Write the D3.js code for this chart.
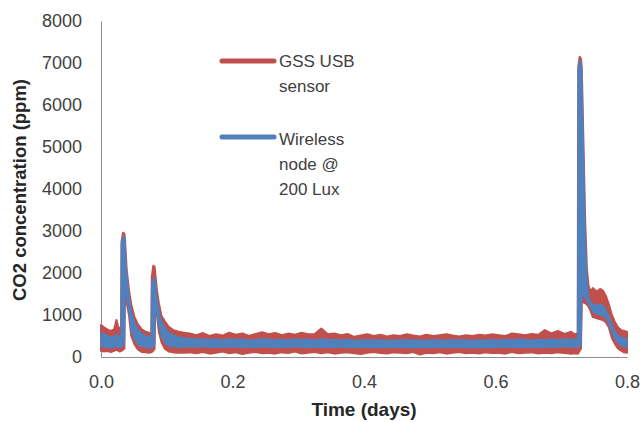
<!DOCTYPE html>
<html>
<head>
<meta charset="utf-8">
<script src="https://cdn.jsdelivr.net/npm/d3@7"></script>
<style>
  html, body { margin: 0; padding: 0; background: #ffffff; }
  svg { display: block; }
  text { font-family: "Liberation Sans", Arial, sans-serif; }
</style>
</head>
<body>
<svg id="chart" width="644" height="422"></svg>
<script>
// ---- Data ----
const timeDays = [
  0.000,0.005,0.010,0.015,0.020,0.0235,0.026,0.0285,0.0305,
  0.0312,0.0335,0.0355,0.0365,0.0390,0.0425,
  0.0460,0.0510,0.0560,0.0620,0.0680,0.0730,0.0765,
  0.0772,0.0795,0.0815,0.0825,0.0850,
  0.0880,0.0920,0.0970,0.1030,0.1100,0.1180,0.1260,
  0.135,0.145,0.155,0.165,0.175,0.185,0.195,0.205,0.215,0.225,
  0.235,0.245,0.255,0.265,0.275,0.285,0.295,0.305,0.315,0.325,
  0.335,0.345,0.355,0.365,0.375,0.385,0.395,0.405,0.415,0.425,
  0.435,0.445,0.455,0.465,0.475,0.485,0.495,0.505,0.515,0.525,
  0.535,0.545,0.555,0.565,0.575,0.585,0.595,0.605,0.615,0.625,
  0.635,0.645,0.655,0.665,0.675,0.685,0.695,0.705,0.715,0.720,
  0.7250,0.7258,0.7280,0.7300,0.7312,0.7335,0.7365,0.7390,0.7415,0.7445,0.7480,
  0.7540,0.7590,0.7635,0.7680,0.7725,0.7770,0.7820,0.7865,0.7910,0.7955,0.8000
];
// GSS USB sensor: upper / lower edge of the noisy trace (ppm)
const gssHigh = [
  760,700,650,620,660,880,720,680,700,
  2750,2960,2940,2800,2100,1600,
  1250,950,780,660,600,580,560,
  1900,2170,2150,2000,1600,
  1280,980,850,720,640,600,580,
  560,520,570,500,540,510,580,530,560,500,
  550,590,540,570,520,560,530,580,540,550,
  680,540,560,520,550,480,510,540,500,530,
  490,520,500,540,510,490,530,500,520,540,
  510,490,520,500,530,510,540,520,500,560,
  540,520,550,530,640,560,620,550,600,540,
  560,6900,7150,7100,6900,5300,3200,2100,1700,1550,1640,
  1560,1620,1580,1450,1250,1000,820,700,640,620,600
];
const gssLow = [
  150,130,140,120,150,170,150,130,140,
  150,170,200,1450,1300,1000,
  500,300,180,120,110,100,110,
  120,150,200,1200,1000,
  600,350,200,130,110,100,100,
  110,90,120,80,100,130,90,110,70,100,
  120,90,100,80,110,95,130,85,100,120,
  90,110,80,100,115,90,70,100,120,95,
  85,110,100,90,120,60,100,90,110,80,
  100,120,90,100,85,110,95,100,80,120,
  90,100,110,85,100,90,110,95,80,90,
  80,90,150,200,1300,1300,1280,1250,1200,1100,950,
  920,900,880,820,700,450,300,200,150,110,100
];
// Wireless node @ 200 Lux: upper / lower edge (ppm)
const nodeHigh = [
  580,540,500,470,480,540,500,470,480,
  2700,2880,2860,2700,1950,1450,
  1080,830,650,560,500,470,460,
  1700,1880,1870,1750,1400,
  1100,850,700,580,520,470,450,
  440,420,430,410,425,400,430,415,420,400,
  410,430,420,405,415,400,425,410,420,400,
  430,410,415,400,420,390,400,410,395,405,
  390,400,410,395,405,400,390,410,400,395,
  405,410,400,390,405,395,410,400,415,405,
  420,410,400,415,405,420,410,425,415,420,
  430,6800,7060,7000,6750,5000,2900,1800,1400,1320,1260,
  1220,1250,1220,1120,960,760,600,500,470,450,430
];
const nodeLow = [
  260,240,230,220,240,260,240,230,230,
  250,280,300,1600,1450,1100,
  650,420,300,250,230,220,220,
  230,250,300,1300,1100,
  750,500,340,270,250,240,240,
  250,240,255,235,245,230,250,240,235,245,
  230,250,240,235,245,230,250,240,235,245,
  230,240,235,245,230,225,235,240,230,235,
  225,235,240,230,235,230,225,240,235,230,
  235,240,230,225,235,230,240,235,245,235,
  240,235,230,240,235,245,240,250,240,240,
  230,240,280,300,1500,1450,1400,1350,1280,1200,1080,
  1030,1000,980,930,800,600,430,330,280,250,240
];
const seriesNames = ["GSS USB sensor", "Wireless node @ 200 Lux"];
const legendLines = [["GSS USB", "sensor"], ["Wireless", "node @", "200 Lux"]];
const yTicks = [0,1000,2000,3000,4000,5000,6000,7000,8000];
const xTicks = [0.0,0.2,0.4,0.6,0.8];

// ---- Layout ----
const svg = d3.select("#chart");
const colors = ["#C0504D", "#4F81BD"];
const x = d3.scaleLinear().domain([0, 0.8]).range([101, 627]);
const y = d3.scaleLinear().domain([0, 8000]).range([357, 21]);

svg.append("rect").attr("width", 644).attr("height", 422).attr("fill", "#fff");

// Axes
const yAxis = svg.append("g").attr("transform", "translate(101,0)")
  .call(d3.axisLeft(y).tickValues(yTicks).tickFormat(d3.format("d")).tickSize(0).tickPadding(19));
const xAxis = svg.append("g").attr("transform", "translate(0,357)")
  .call(d3.axisBottom(x).tickValues(xTicks).tickFormat(d3.format(".1f")).tickSize(0).tickPadding(18));
[yAxis, xAxis].forEach(g => {
  g.select(".domain").attr("stroke", "#8c8c8c").attr("stroke-width", 1);
  g.selectAll("text").attr("font-size", 18).attr("fill", "#404040")
    .attr("font-family", "'Liberation Sans', Arial, sans-serif");
});

// Series as envelope areas
const makeData = (hi, lo) => timeDays.map((t, i) => ({ t, hi: hi[i], lo: lo[i] }));
const area = d3.area().x(d => x(d.t)).y0(d => y(d.lo)).y1(d => y(d.hi));
[[gssHigh, gssLow, 2.0], [nodeHigh, nodeLow, 1.6]].forEach(([hi, lo, sw], k) => {
  svg.append("path")
    .datum(makeData(hi, lo))
    .attr("d", area)
    .attr("fill", colors[k])
    .attr("stroke", colors[k])
    .attr("stroke-width", sw)
    .attr("stroke-linejoin", "round");
});

// Axis titles
svg.append("text")
  .attr("transform", "translate(26,190) rotate(-90)")
  .attr("text-anchor", "middle")
  .attr("font-size", 18.5).attr("font-weight", "bold").attr("fill", "#262626")
  .text("CO2 concentration (ppm)");
svg.append("text")
  .attr("x", x(0.4)).attr("y", 416)
  .attr("text-anchor", "middle")
  .attr("font-size", 19).attr("font-weight", "bold").attr("fill", "#262626")
  .text("Time (days)");

// Legend
const legendY = [61, 137];
const baseY = [67, 145];
seriesNames.forEach((name, k) => {
  const g = svg.append("g").attr("class", "legend-item").attr("aria-label", name);
  g.append("line")
    .attr("x1", 222).attr("x2", 274)
    .attr("y1", legendY[k]).attr("y2", legendY[k])
    .attr("stroke", colors[k]).attr("stroke-width", 5).attr("stroke-linecap", "round");
  legendLines[k].forEach((ln, j) => {
    g.append("text")
      .attr("x", 279).attr("y", baseY[k] + j * 25)
      .attr("font-size", 17).attr("fill", "#404040")
      .text(ln);
  });
});
</script>
</body>
</html>
